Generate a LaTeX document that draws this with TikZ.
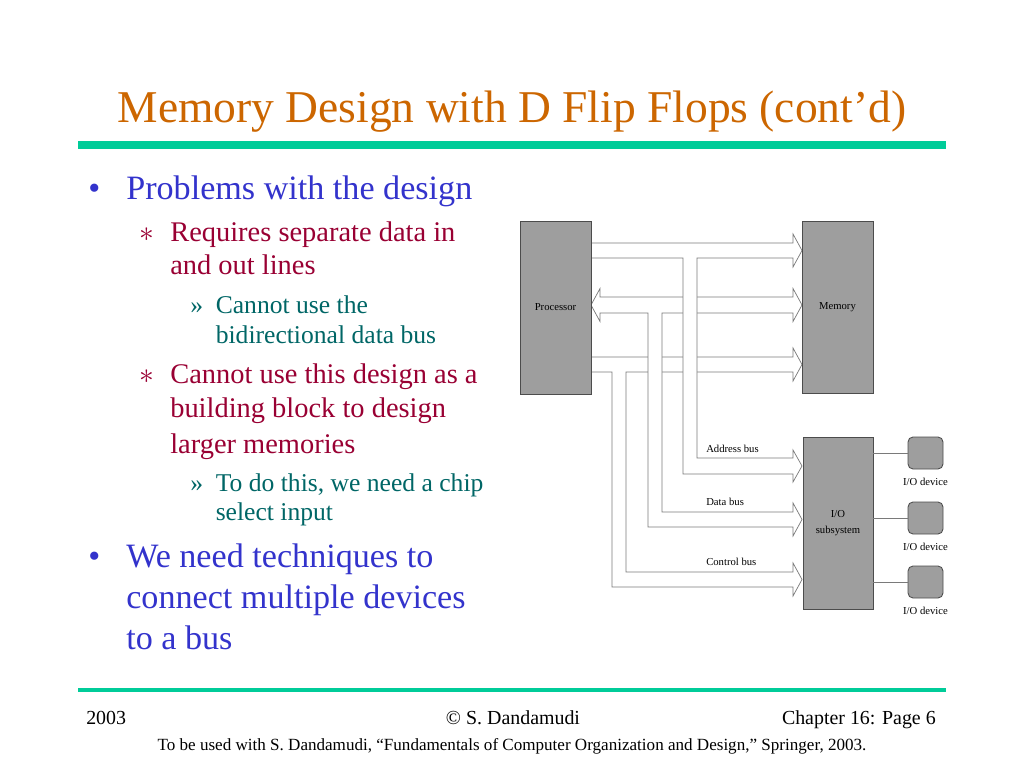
\documentclass[tikz,border=0pt]{standalone}
\usepackage{fontspec}
\setmainfont{Liberation Serif}
\usepackage{tikz}
\usetikzlibrary{positioning}
\definecolor{titleorange}{HTML}{CC6600}
\definecolor{ruleteal}{HTML}{00CC99}
\definecolor{lvlone}{HTML}{3333CC}
\definecolor{lvltwo}{HTML}{990033}
\definecolor{lvlthree}{HTML}{006666}
\definecolor{boxgray}{HTML}{9E9E9E}
\definecolor{busgray}{HTML}{7A7A7A}

\begin{document}
\begin{tikzpicture}[x=0.703125pt,y=-0.703125pt,
   txt/.style={anchor=base west, inner sep=0pt},
   one/.style={txt, text=lvlone, font=\fontsize{24}{29}\selectfont},
   two/.style={txt, text=lvltwo, font=\fontsize{20}{24}\selectfont},
   three/.style={txt, text=lvlthree, font=\fontsize{18}{21}\selectfont},
   unit/.style={draw=black!70, fill=boxgray, line width=0.6pt, inner sep=0pt,
      font=\fontsize{7.5}{11}\selectfont, align=center},
   device/.style={draw=black!70, fill=boxgray, line width=0.6pt, rounded corners=3.5pt,
      minimum width=24.6pt, minimum height=22.5pt, inner sep=0pt},
   small/.style={inner sep=0pt, font=\fontsize{7.5}{9}\selectfont},
   bus/.style={draw=busgray, fill=white, line width=0.5pt, line join=miter}]
   \useasboundingbox (0,0) rectangle (1024,768);

   % title and rules
   \node (title) at (512,123) [anchor=base, inner sep=0pt, text=titleorange,
      font=\fontsize{32}{38}\selectfont] {Memory Design with D Flip Flops (cont’d)};
   \fill[ruleteal] (78,141) rectangle (946,149);
   \fill[ruleteal] (78,688) rectangle (946,692);

   % bullet text
   \node (b1) at (88,200) [one] {•};
   \node (p1) at (126,200) [one] {Problems with the design};
   \node (s1) at (139,242) [two] {$\ast$};
   \node (q1) at (170,242) [two] {Requires separate data in};
   \node (q1b) at (170,275) [two] {and out lines};
   \node (r1) at (190,313) [three] {»};
   \node (t1) at (215.5,313) [three] {Cannot use the};
   \node (t1b) at (215.5,343) [three] {bidirectional data bus};
   \node (s2) at (139,383) [two] {$\ast$};
   \node (q2) at (170,383) [two] {Cannot use this design as a};
   \node (q2b) at (170,417) [two] {building block to design};
   \node (q2c) at (170,453) [two] {larger memories};
   \node (r2) at (190,491) [three] {»};
   \node (t2) at (215.5,491) [three] {To do this, we need a chip};
   \node (t2b) at (215.5,520) [three] {select input};
   \node (b2) at (88,567) [one] {•};
   \node (p2) at (126,567) [one] {We need techniques to};
   \node (p2b) at (126,608) [one] {connect multiple devices};
   \node (p2c) at (126,649) [one] {to a bus};

   % buses: control under data under address
   \draw[bus] (591,357) -- (793,357) -- (793,348) -- (802,364.5) -- (793,381) -- (793,372)
      -- (626,372) -- (626,572) -- (793,572) -- (793,563) -- (802,579.5) -- (793,596)
      -- (793,587) -- (612,587) -- (612,372) -- (591,372) -- cycle;
   \draw[bus] (591,305) -- (600,288.5) -- (600,297) -- (793,297) -- (793,288.5) -- (802,305)
      -- (793,321.5) -- (793,313) -- (662,313) -- (662,512) -- (793,512) -- (793,503)
      -- (802,519.5) -- (793,536) -- (793,527) -- (648,527) -- (648,313) -- (600,313)
      -- (600,321.5) -- cycle;
   \draw[bus] (591,243) -- (793,243) -- (793,234) -- (802,250.5) -- (793,267) -- (793,258)
      -- (697,258) -- (697,458) -- (793,458) -- (793,450) -- (802,466) -- (793,482)
      -- (793,474) -- (683,474) -- (683,258) -- (591,258) -- cycle;
   \node (abus) at (706,449) [small, anchor=west] {Address bus};
   \node (dbus) at (706,502) [small, anchor=west] {Data bus};
   \node (cbus) at (706,562) [small, anchor=west] {Control bus};

   % units
   \node (proc) at (555.5,307.5) [unit, minimum width=49.9pt, minimum height=121.6pt] {Processor};
   \node (mem) at (837.5,307) [unit, minimum width=49.9pt, minimum height=120.9pt] {Memory};
   \node (io) at (838,523) [unit, minimum width=49.2pt, minimum height=120.9pt] {I/O\\subsystem};

   % devices
   \node (dev1) at (925.5,453) [device] {};
   \node (dev2) at (925.5,518) [device] {};
   \node (dev3) at (925.5,582) [device] {};
   \node (lab1) [small, below=6pt of dev1] {I/O device};
   \node (lab2) [small, below=6pt of dev2] {I/O device};
   \node (lab3) [small, below=6pt of dev3] {I/O device};
   \draw[busgray, line width=0.5pt] (dev1.west) -- (dev1.west -| io.east);
   \draw[busgray, line width=0.5pt] (dev2.west) -- (dev2.west -| io.east);
   \draw[busgray, line width=0.5pt] (dev3.west) -- (dev3.west -| io.east);

   % footer
   \node (year) at (86,724) [txt, font=\fontsize{14}{17}\selectfont] {2003};
   \node (auth) at (513,724) [anchor=base, inner sep=0pt, font=\fontsize{14}{17}\selectfont] {© S. Dandamudi};
   \node (page) at (936,724) [anchor=base east, inner sep=0pt, font=\fontsize{14}{17}\selectfont] {Chapter 16: Page 6};
   \node (note) at (512,750) [anchor=base, inner sep=0pt, font=\fontsize{12}{14}\selectfont]
      {To be used with S. Dandamudi, “Fundamentals of Computer Organization and Design,” Springer, 2003.};
\end{tikzpicture}
\end{document}
